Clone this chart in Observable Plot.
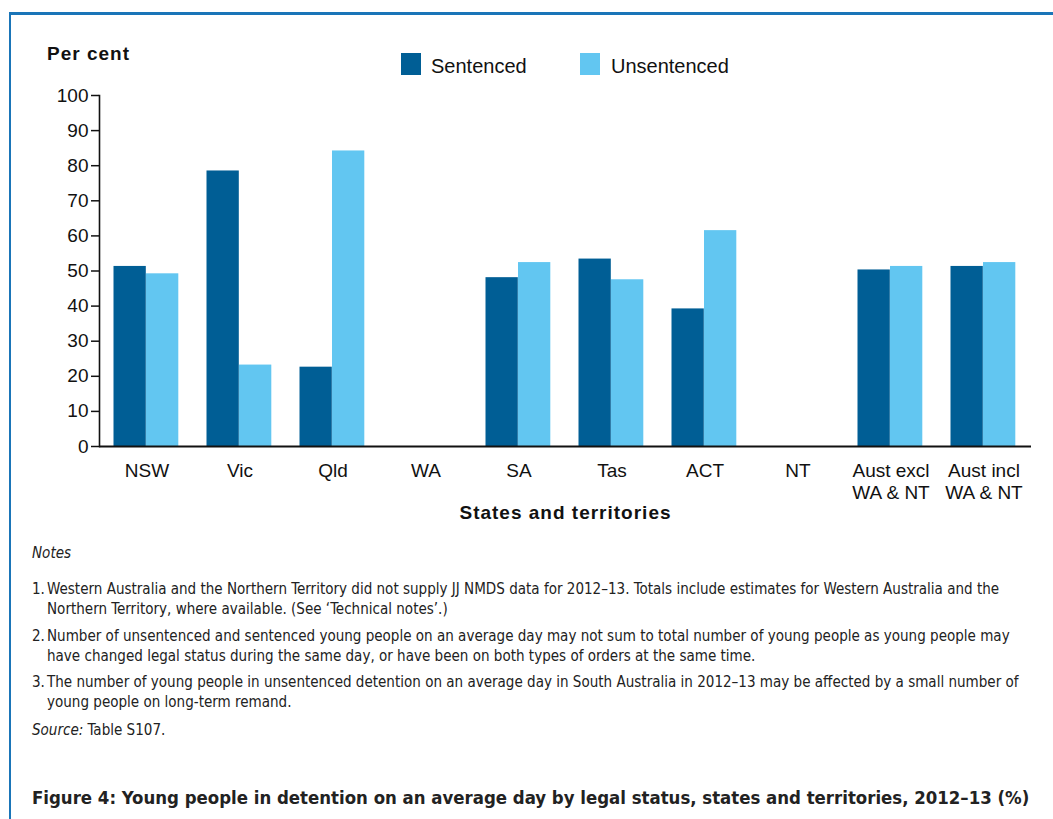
<!DOCTYPE html>
<html>
<head>
<meta charset="utf-8">
<script src="https://cdn.jsdelivr.net/npm/d3@7"></script>
<script src="https://cdn.jsdelivr.net/npm/@observablehq/plot@0.6"></script>
<style>
  html, body { margin: 0; padding: 0; background: #fff; }
  #page { position: relative; width: 1053px; height: 819px; overflow: hidden; font-family: "Liberation Sans", Arial, sans-serif; color: #111; }
  #frame { position: absolute; left: 9px; top: 12px; width: 1060px; height: 820px; border-top: 3px solid #1a75b8; border-left: 2.5px solid #1a75b8; box-sizing: border-box; }
  #chart { position: absolute; left: 0; top: 0; }
  .abs { position: absolute; white-space: nowrap; }
  #percent { left: 47px; top: 43px; font-size: 19px; font-weight: bold; letter-spacing: 1px; }
  .sw { position: absolute; width: 20px; height: 22px; }
  .lg { position: absolute; font-size: 20px; top: 55px; }
  .cond { font-family: "Liberation Sans Narrow", "DejaVu Sans Condensed", "DejaVu Sans", sans-serif; font-stretch: condensed; }
  #notes { left: 32px; top: 544px; font-size: 15px; color: #222; }
  #notes .line { position: absolute; white-space: nowrap; }
  #title { left: 32px; top: 787px; font-size: 22px; font-weight: bold; color: #222; }
</style>
</head>
<body>
<div id="page">
  <div id="frame"></div>
  <div id="chart"></div>
  <div class="abs" id="percent">Per cent</div>
  <div class="sw" style="left:401px;top:53px;background:#005E95"></div>
  <div class="lg" style="left:431px">Sentenced</div>
  <div class="sw" style="left:580px;top:53px;background:#62C6F1"></div>
  <div class="lg" style="left:611px">Unsentenced</div>
  <div class="abs cond" id="notes"></div>
  <div class="abs cond" id="title">Figure 4: Young people in detention on an average day by legal status, states and territories, 2012–13 (%)</div>
</div>
<script>
const categories = ["NSW", "Vic", "Qld", "WA", "SA", "Tas", "ACT", "NT", "Aust excl\nWA & NT", "Aust incl\nWA & NT"];
const sentenced = [51.3, 78.5, 22.6, null, 48.1, 53.4, 39.2, null, 50.3, 51.3];
const unsentenced = [49.2, 23.2, 84.2, null, 52.4, 47.5, 61.5, null, 51.3, 52.4];
const yTicks = [0, 10, 20, 30, 40, 50, 60, 70, 80, 90, 100];
const seriesNames = ["Sentenced", "Unsentenced"];
const seriesColors = ["#005E95", "#62C6F1"];

const rows = [];
categories.forEach((c, i) => {
  if (sentenced[i] != null) rows.push({cat: c, series: seriesNames[0], value: sentenced[i]});
  if (unsentenced[i] != null) rows.push({cat: c, series: seriesNames[1], value: unsentenced[i]});
});

const chart = Plot.plot({
  width: 1053,
  height: 540,
  marginLeft: 99,
  marginRight: 22,
  marginTop: 95,
  marginBottom: 94,
  style: {fontFamily: "'Liberation Sans', Arial, sans-serif", fontSize: "19px", color: "#111", background: "transparent"},
  x: {domain: categories, padding: 0, axis: null},
  y: {domain: [0, 100], axis: null},
  color: {domain: seriesNames, range: seriesColors},
  marks: [
    Plot.barY(rows.filter(d => d.series === seriesNames[0]), {x: "cat", y: "value", fill: "series", insetLeft: 13.5, insetRight: 47.2}),
    Plot.barY(rows.filter(d => d.series === seriesNames[1]), {x: "cat", y: "value", fill: "series", insetLeft: 46, insetRight: 14.7}),
    Plot.axisY({ticks: yTicks, tickSize: 8, tickPadding: 3, label: null, fontSize: 19, stroke: "#111", strokeWidth: 1.5}),
    Plot.axisX({tickSize: 0, tickPadding: 15, label: null, fontSize: 19, lineHeight: 1.14}),
    Plot.frame({anchor: "left", stroke: "#111", strokeWidth: 1.6}),
    Plot.ruleY([0], {stroke: "#111", strokeWidth: 2}),
    Plot.text(["States and territories"], {frameAnchor: "bottom", dy: 72, fontWeight: "bold", fontSize: 19, text: d => d, fill: "#111"})
  ]
});
chart.querySelectorAll("text").forEach(t => {
  if (t.textContent === "States and territories") t.setAttribute("letter-spacing", "1px");
});
document.getElementById("chart").appendChild(chart);

const notesLines = [
  ["Notes", 0, 0, true],
  ["1.", 0, 36], ["Western Australia and the Northern Territory did not supply JJ NMDS data for 2012–13. Totals include estimates for Western Australia and the", 15, 36],
  ["Northern Territory, where available. (See ‘Technical notes’.)", 15, 56],
  ["2.", 0, 83], ["Number of unsentenced and sentenced young people on an average day may not sum to total number of young people as young people may", 15, 83],
  ["have changed legal status during the same day, or have been on both types of orders at the same time.", 15, 103],
  ["3.", 0, 129], ["The number of young people in unsentenced detention on an average day in South Australia in 2012–13 may be affected by a small number of", 15, 129],
  ["young people on long-term remand.", 15, 149]
];
const notes = document.getElementById("notes");
const els = [];
notesLines.forEach(([txt, x, y, it]) => {
  const s = document.createElement("div");
  s.className = "line";
  s.style.left = x + "px";
  s.style.top = y + "px";
  if (it) s.style.fontStyle = "italic";
  s.textContent = txt;
  notes.appendChild(s);
  els.push(s);
});
const src = document.createElement("div");
src.className = "line";
src.style.left = "0px"; src.style.top = "177px";
src.innerHTML = "<i>Source:</i> Table S107.";
notes.appendChild(src);

function fitSize(el, target) {
  const w = el.getBoundingClientRect().width;
  const fs = parseFloat(getComputedStyle(el).fontSize);
  return fs * target / w;
}
const line1 = els[2];
line1.style.display = "inline-block";
const nfs = fitSize(line1, 953);
notes.style.fontSize = nfs + "px";
const title = document.getElementById("title");
title.style.display = "inline-block";
title.style.fontSize = fitSize(title, 998) + "px";
</script>
</body>
</html>
